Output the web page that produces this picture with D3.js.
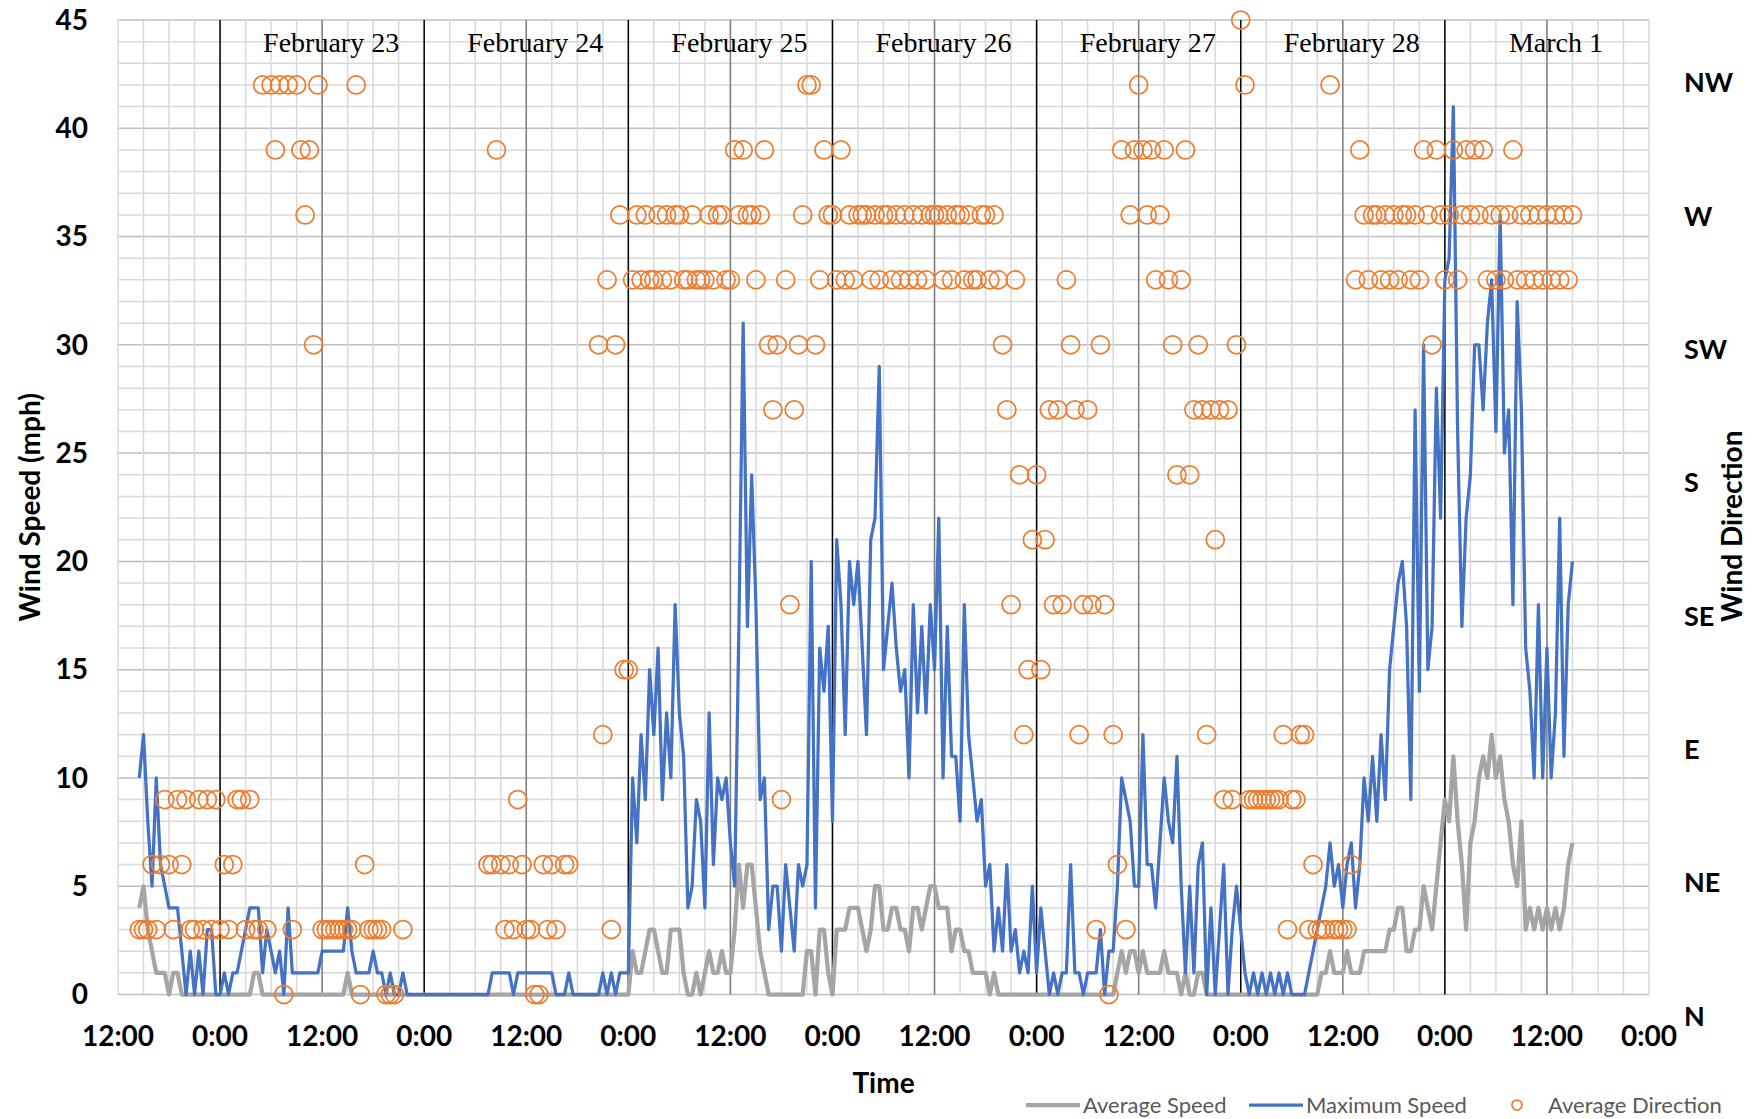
<!DOCTYPE html>
<html>
<head>
<meta charset="utf-8">
<script src="https://cdn.jsdelivr.net/npm/d3@7"></script>
<style>
	body { margin: 0; background: #fff; }
	svg { display: block; }
</style>
</head>
<body>
<svg></svg>
<script>
// half-hourly readings, starting Feb 22 14:30
var startTime = new Date(2021, 1, 22, 14, 30);
var stepMinutes = 30;

var avgSpeed = [
	4,5,3,2,1,1,1,0,1,1,0,0,0,0,0,0,0,0,0, // feb 22
	0,0,0,0,0,0,0,0,1,1,0,0,0,0,0,0,0,0,0,0,0,0,0,0,0,0,0,0,0,0,1,0,0,0,0,0,0,0,0,0,0,0,0,0,0,0,0,0, // feb 23
	0,0,0,0,0,0,0,0,0,0,0,0,0,0,0,0,0,0,0,0,0,0,0,0,0,0,0,0,0,0,0,0,0,0,0,0,0,0,0,0,0,0,0,0,0,0,0,0, // feb 24
	0,2,1,1,2,3,3,2,1,1,3,3,3,1,0,0,1,0,1,2,1,1,2,1,1,3,6,4,6,6,4,2,1,0,0,0,0,0,0,0,0,0,2,2,0,3,3,1, // feb 25
	0,3,3,3,4,4,4,3,2,3,5,5,3,3,4,4,3,3,2,4,4,3,4,5,5,4,4,4,2,3,3,2,2,1,1,1,1,0,1,0,0,0,0,0,0,0,0,0, // feb 26
	0,0,0,0,0,0,0,0,0,0,0,0,0,0,0,0,0,0,0,1,2,1,2,2,1,2,1,1,1,1,2,1,1,1,0,1,0,0,1,1,0,0,0,0,0,0,0,0, // feb 27
	0,0,0,0,0,0,0,0,0,0,0,0,0,0,0,0,0,0,0,1,1,2,1,1,1,2,1,1,1,2,2,2,2,2,2,3,3,4,4,2,2,3,3,5,4,3,5,7, // feb 28
	9,8,11,8,6,3,7,8,10,11,10,12,10,11,9,8,6,5,8,3,4,3,4,3,4,3,4,3,4,6,7 // mar 1
];

var maxSpeed = [
	10,12,8,5,10,6,5,4,4,4,2,0,2,0,2,0,3,3,0, // feb 22
	0,1,0,1,1,2,3,4,4,4,1,3,2,1,2,0,4,1,1,1,1,1,1,1,2,2,2,2,2,2,4,2,1,1,1,1,2,1,1,0,1,0,0,1,0,0,0,0, // feb 23
	0,0,0,0,0,0,0,0,0,0,0,0,0,0,0,0,1,1,1,1,1,0,1,1,1,1,1,1,1,1,1,0,0,0,1,0,0,0,0,0,0,0,1,0,1,0,1,1, // feb 24
	1,10,7,12,9,15,12,16,9,13,10,18,13,11,4,5,9,8,4,13,6,10,9,10,7,5,17,31,17,24,18,9,10,3,5,5,2,6,4,2,6,5,6,20,4,16,14,17, // feb 25
	8,21,18,12,20,18,20,16,12,21,22,29,15,17,19,16,14,15,10,18,13,17,13,18,15,22,10,17,11,11,8,18,12,10,8,9,5,6,2,4,2,6,2,3,1,2,1,5, // feb 26
	1,4,2,0,1,0,1,1,6,1,1,0,1,1,1,3,0,2,2,5,10,9,8,5,5,12,6,6,4,7,10,8,7,11,5,1,5,1,6,7,0,4,0,3,6,0,3,5, // feb 27
	3,1,0,1,0,1,0,1,0,1,0,1,0,0,0,0,1,2,3,4,5,7,5,6,4,6,7,4,6,10,8,11,8,12,9,15,17,19,20,17,9,27,14,30,15,17,28,22, // feb 28
	33,34,41,26,17,22,24,30,30,27,31,33,26,36,25,27,18,32,27,16,14,10,18,10,16,10,13,22,11,18,20 // mar 1
];

// direction is plotted on the speed scale: 3 per compass point (N = 0 or 45)
var avgDirection = [
	3,3,3,6,3,6,9,6,3,9,6,9,3,3,9,3,9,3,9, // feb 22
	3,6,3,6,9,9,3,9,3,3,42,3,42,39,42,0,42,3,42,39,36,39,30,42,3,3,3,3,3,3,3,3,42,0,6,3,3,3,3,0,0,0,null,3,null,null,null,null, // feb 23
	null,null,null,null,null,null,null,null,null,null,null,null,null,null,null,6,6,39,6,3,6,3,9,6,3,3,0,0,6,3,6,3,null,6,6,null,null,null,null,null,null,30,12,33,3,30,36,15, // feb 24
	15,33,36,33,36,33,33,36,33,36,33,36,36,33,33,36,33,33,33,36,33,36,36,33,33,39,36,39,36,36,33,36,39,30,27,30,9,33,18,27,30,36,42,42,30,33,39,36, // feb 25
	36,33,39,33,36,33,36,36,36,33,36,33,36,36,33,36,33,36,33,36,33,36,33,36,36,36,33,36,33,36,36,33,36,33,33,36,36,33,36,33,30,27,18,33,24,12,15,21, // feb 26
	24,15,21,27,18,27,18,33,30,27,12,18,27,18,3,30,18,0,12,6,39,3,36,39,42,39,36,39,33,36,39,33,30,24,33,39,24,27,30,27,12,27,21,27,9,27,9,30, // feb 27
	45,42,9,9,9,9,9,9,9,9,12,3,9,9,12,12,3,6,3,3,3,42,3,3,3,3,6,33,39,36,33,36,36,33,36,33,36,33,36,36,33,36,33,39,36,30,39,36, // feb 28
	33,36,39,33,36,39,36,39,36,39,33,36,33,36,33,36,39,33,36,33,36,33,36,33,36,33,36,33,36,33,36 // mar 1
];

var dayLabels = ["February 23", "February 24", "February 25", "February 26", "February 27", "February 28", "March 1"];
var dirLabels = ["N", "NE", "E", "SE", "S", "SW", "W", "NW"];
var speedTicks = [0, 5, 10, 15, 20, 25, 30, 35, 40, 45];
var legendNames = ["Average Speed", "Maximum Speed", "Average Direction"];

var W = 1764, H = 1119;
var margin = {top: 20, right: 115, bottom: 124.5, left: 118},
	width = W - margin.left - margin.right,
	height = H - margin.top - margin.bottom;

var sans = "Lato, 'Open Sans', sans-serif";

var svg = d3.select("svg")
	.attr("width", W)
	.attr("height", H)
	.append("g")
	.attr("transform", "translate(" + margin.left + "," + margin.top + ")");

var data = avgSpeed.map(function(d, i) {
	return {
		time: d3.timeMinute.offset(startTime, i * stepMinutes),
		avg: d,
		max: maxSpeed[i],
		dir: avgDirection[i]
	};
});

var x = d3.scaleTime()
	.domain([new Date(2021, 1, 22, 12), new Date(2021, 2, 2, 0)])
	.range([0, width]);

var y = d3.scaleLinear()
	.domain([0, 45])
	.range([height, 0]);

// grid: every mph, every 3 hours
svg.append("g")
	.selectAll("line")
	.data(d3.range(0, 46))
	.enter()
	.append("line")
	.attr("x1", 0)
	.attr("x2", width)
	.attr("y1", function(d) { return y(d); })
	.attr("y2", function(d) { return y(d); })
	.attr("stroke", function(d) { return d % 5 == 0 ? "#bfbfbf" : "#d9d9d9"; })
	.attr("stroke-width", 1.5);

var hours = x.ticks(d3.timeHour.every(3));
svg.append("g")
	.selectAll("line")
	.data(hours)
	.enter()
	.append("line")
	.attr("x1", function(d) { return x(d); })
	.attr("x2", function(d) { return x(d); })
	.attr("y1", 0)
	.attr("y2", height)
	.attr("stroke", "#d9d9d9")
	.attr("stroke-width", 1.5);

// day dividers (midnight black, noon gray) for the labelled days
var days = dayLabels.map(function(d, i) { return d3.timeDay.offset(new Date(2021, 1, 23), i); });
svg.append("g")
	.selectAll("line")
	.data(days)
	.enter()
	.append("line")
	.attr("x1", function(d) { return x(d3.timeHour.offset(d, 12)); })
	.attr("x2", function(d) { return x(d3.timeHour.offset(d, 12)); })
	.attr("y1", 0)
	.attr("y2", height)
	.attr("stroke", "#7f7f7f")
	.attr("stroke-width", 1.5);
svg.append("g")
	.selectAll("line")
	.data(days)
	.enter()
	.append("line")
	.attr("x1", function(d) { return x(d); })
	.attr("x2", function(d) { return x(d); })
	.attr("y1", 0)
	.attr("y2", height)
	.attr("stroke", "#000")
	.attr("stroke-width", 1.5);

// day names
svg.append("g")
	.selectAll("text")
	.data(dayLabels)
	.enter()
	.append("text")
	.attr("x", function(d, i) { return x(d3.timeHour.offset(days[i], 12)) + 9; })
	.attr("y", 32)
	.style("text-anchor", "middle")
	.style("font-family", "'Liberation Serif', 'Times New Roman', serif")
	.style("font-size", "28px")
	.attr("fill", "#000")
	.text(function(d) { return d; });

// lines
var lineAvg = d3.line()
	.x(function(d) { return x(d.time); })
	.y(function(d) { return y(d.avg); });
var lineMax = d3.line()
	.x(function(d) { return x(d.time); })
	.y(function(d) { return y(d.max); });

svg.append("path")
	.datum(data)
	.attr("d", lineAvg)
	.attr("fill", "none")
	.attr("stroke", "#a5a5a5")
	.attr("stroke-width", 4.25)
	.attr("stroke-linejoin", "round");

svg.append("path")
	.datum(data)
	.attr("d", lineMax)
	.attr("fill", "none")
	.attr("stroke", "#4472c4")
	.attr("stroke-width", 3.25)
	.attr("stroke-linejoin", "round");

// direction markers
svg.append("g")
	.selectAll("circle")
	.data(data.filter(function(d) { return d.dir != null; }))
	.enter()
	.append("circle")
	.attr("cx", function(d) { return x(d.time); })
	.attr("cy", function(d) { return y(d.dir); })
	.attr("r", 9)
	.attr("fill", "none")
	.attr("stroke", "#ed7d31")
	.attr("stroke-width", 1.75);

// left axis labels
svg.append("g")
	.selectAll("text")
	.data(speedTicks)
	.enter()
	.append("text")
	.attr("x", -30)
	.attr("y", function(d) { return y(d); })
	.attr("dy", "0.35em")
	.style("text-anchor", "end")
	.style("font-family", sans)
	.style("font-weight", "bold")
	.style("font-size", "28px")
	.attr("fill", "#000")
	.text(function(d) { return d; });

// bottom axis labels
var fmt = d3.timeFormat("%-H:%M");
svg.append("g")
	.selectAll("text")
	.data(x.ticks(d3.timeHour.every(12)))
	.enter()
	.append("text")
	.attr("x", function(d) { return x(d); })
	.attr("y", height + 42)
	.attr("dy", "0.35em")
	.style("text-anchor", "middle")
	.style("font-family", sans)
	.style("font-weight", "bold")
	.style("font-size", "28px")
	.attr("fill", "#000")
	.text(function(d) { return fmt(d); });

// right axis: compass points
var yDir = d3.scalePoint()
	.domain(dirLabels)
	.range([y(-1), y(42.1)]);
svg.append("g")
	.selectAll("text")
	.data(dirLabels)
	.enter()
	.append("text")
	.attr("x", width + 35)
	.attr("y", function(d) { return yDir(d); })
	.attr("dy", "0.35em")
	.style("font-family", sans)
	.style("font-weight", "bold")
	.style("font-size", "27px")
	.attr("fill", "#000")
	.text(function(d) { return d; });

// axis titles
svg.append("text")
	.attr("transform", "translate(" + (-88) + "," + (height / 2) + ") rotate(-90)")
	.attr("dy", "0.35em")
	.style("text-anchor", "middle")
	.style("font-family", sans)
	.style("font-weight", "bold")
	.style("font-size", "28px")
	.text("Wind Speed (mph)");

svg.append("text")
	.attr("x", width / 2)
	.attr("y", height + 89)
	.attr("dy", "0.35em")
	.style("text-anchor", "middle")
	.style("font-family", sans)
	.style("font-weight", "bold")
	.style("font-size", "28px")
	.text("Time");

svg.append("text")
	.attr("transform", "translate(" + (width + 83) + "," + (height / 2 + 19) + ") rotate(-90)")
	.attr("dy", "0.35em")
	.style("text-anchor", "middle")
	.style("font-family", sans)
	.style("font-weight", "bold")
	.style("font-size", "28px")
	.text("Wind Direction");

// legend
var legend = svg.append("g")
	.attr("transform", "translate(0," + (1105 - margin.top) + ")");
var legX = [1026, 1249, 1500].map(function(v) { return v - margin.left; });

legend.append("line")
	.attr("x1", legX[0]).attr("x2", legX[0] + 54)
	.attr("stroke", "#a5a5a5").attr("stroke-width", 4.25);
legend.append("line")
	.attr("x1", legX[1]).attr("x2", legX[1] + 54)
	.attr("stroke", "#4472c4").attr("stroke-width", 3.25);
legend.append("circle")
	.attr("cx", legX[2] + 17)
	.attr("r", 5)
	.attr("fill", "none")
	.attr("stroke", "#ed7d31")
	.attr("stroke-width", 1.75);

legend.selectAll("text")
	.data(legendNames)
	.enter()
	.append("text")
	.attr("x", function(d, i) { return legX[i] + [57, 57, 48][i]; })
	.attr("dy", "0.35em")
	.style("font-family", sans)
	.style("font-size", "22px")
	.attr("fill", "#595959")
	.text(function(d) { return d; });
</script>
</body>
</html>
